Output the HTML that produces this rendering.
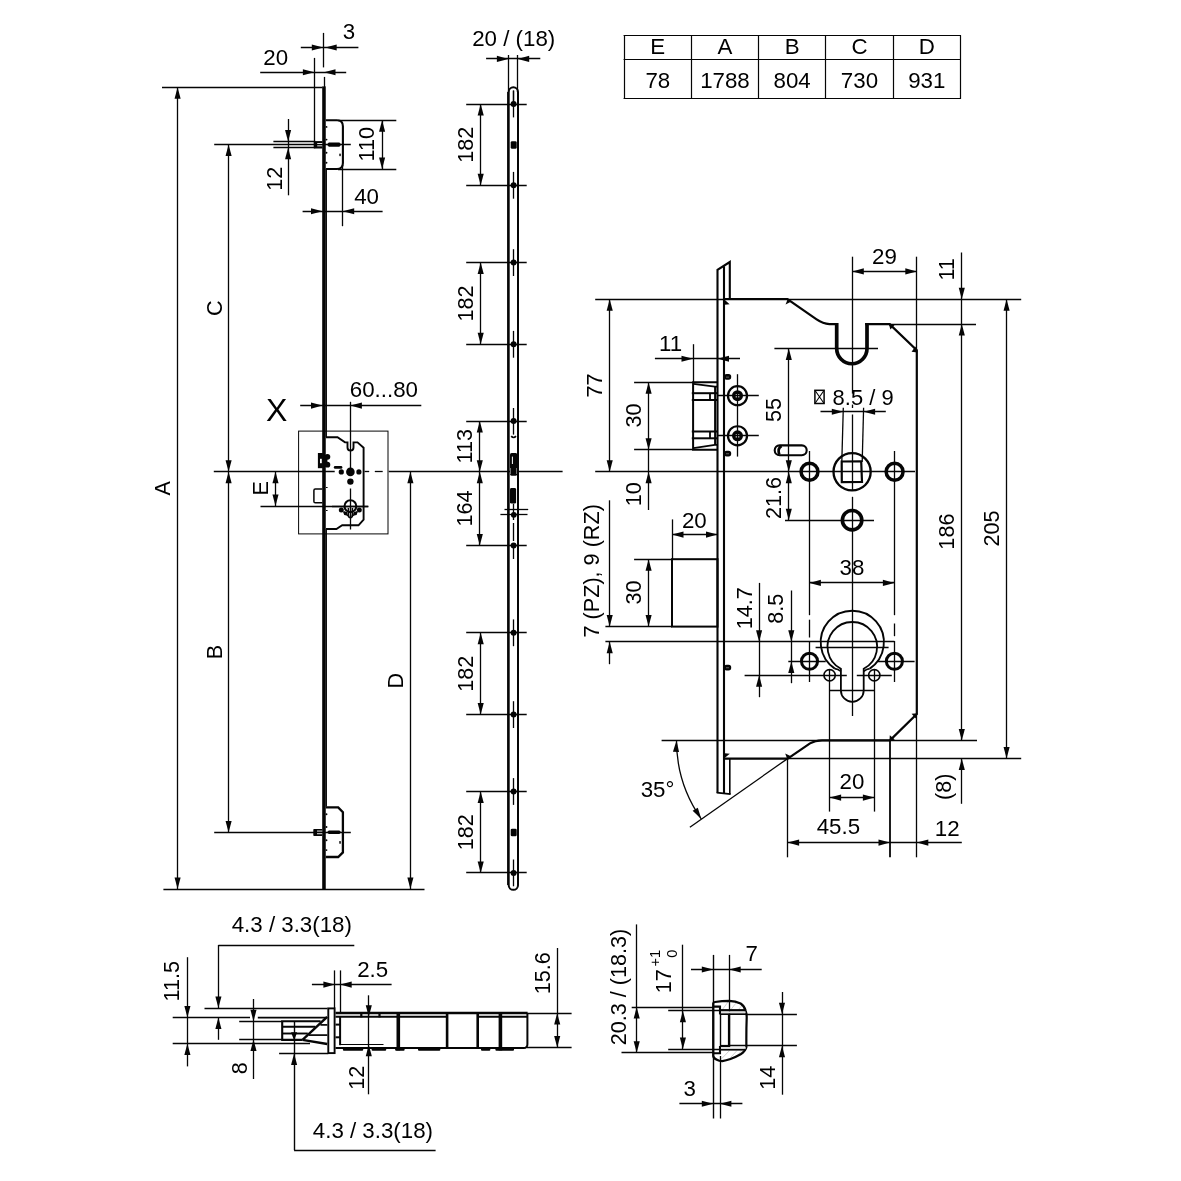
<!DOCTYPE html>
<html lang="en">
<head>
<meta charset="utf-8">
<title>Lock dimensions</title>
<style>
html,body{margin:0;padding:0;background:#fff;}
body{width:1181px;height:1181px;overflow:hidden;font-family:"Liberation Sans",sans-serif;}
svg{display:block;filter:grayscale(1);}
svg text{font-family:"Liberation Sans",sans-serif;fill:#000;stroke:none;}
svg .f{fill:#050505;stroke:none;}
</style>
</head>
<body>
<svg width="1181" height="1181" viewBox="0 0 1181 1181">
<rect x="0" y="0" width="1181" height="1181" style="fill:#fff;stroke:none"/>
<g fill="none" stroke="#050505" stroke-width="1.3">
<!-- view 1 -->
<rect class="f" x="322.2" y="86.4" width="3.55" height="803.2"/>
<rect class="f" x="325.6" y="169" width="1.35" height="268.2"/>
<rect class="f" x="325.6" y="529" width="1.35" height="277.6"/>
<line x1="323.5" y1="32.9" x2="323.5" y2="67.4" stroke-width="1.3"/>
<line x1="324.5" y1="76.9" x2="324.5" y2="87" stroke-width="1.3"/>
<line x1="162" y1="87.5" x2="322.5" y2="87.5" stroke-width="1.3"/>
<line x1="163.4" y1="889.5" x2="424.5" y2="889.5" stroke-width="1.3"/>
<line x1="177.5" y1="87.3" x2="177.5" y2="889" stroke-width="1.3"/>
<polygon class="f" points="177.6,87.3 180.65,98.8 174.55,98.8"/>
<polygon class="f" points="177.6,889 174.55,877.5 180.65,877.5"/>
<text transform="translate(170.48 488.4) rotate(-90) scale(0.97 1)" font-size="22.3" text-anchor="middle">A</text>
<line x1="214.2" y1="144.5" x2="350.8" y2="144.5" stroke-width="1.3"/>
<line x1="214.2" y1="832.5" x2="350.8" y2="832.5" stroke-width="1.3"/>
<line x1="228.5" y1="144.4" x2="228.5" y2="832.4" stroke-width="1.3"/>
<polygon class="f" points="228.6,144.4 231.65,155.9 225.55,155.9"/>
<polygon class="f" points="228.6,471.8 225.55,460.3 231.65,460.3"/>
<polygon class="f" points="228.6,471.8 231.65,483.3 225.55,483.3"/>
<polygon class="f" points="228.6,832.4 225.55,820.9 231.65,820.9"/>
<text transform="translate(221.68 308.3) rotate(-90) scale(0.97 1)" font-size="22.3" text-anchor="middle">C</text>
<text transform="translate(221.68 652) rotate(-90) scale(0.97 1)" font-size="22.3" text-anchor="middle">B</text>
<line x1="213.8" y1="471.5" x2="334.7" y2="471.5" stroke-width="1.3"/>
<line x1="364.5" y1="471.5" x2="369.2" y2="471.5" stroke-width="1.3"/>
<line x1="374.8" y1="471.5" x2="382.7" y2="471.5" stroke-width="1.3"/>
<line x1="388.7" y1="471.5" x2="562.6" y2="471.5" stroke-width="1.3"/>
<line x1="410.5" y1="471.8" x2="410.5" y2="889" stroke-width="1.3"/>
<polygon class="f" points="410.4,471.8 413.45,483.3 407.35,483.3"/>
<polygon class="f" points="410.4,889 407.35,877.5 413.45,877.5"/>
<text transform="translate(403.28 680.8) rotate(-90) scale(0.97 1)" font-size="22.3" text-anchor="middle">D</text>
<line x1="275.5" y1="471.8" x2="275.5" y2="506" stroke-width="1.3"/>
<polygon class="f" points="275.5,471.8 278.55,483.3 272.45,483.3"/>
<polygon class="f" points="275.5,506 272.45,494.5 278.55,494.5"/>
<line x1="260.5" y1="506.5" x2="368.3" y2="506.5" stroke-width="1.3"/>
<text transform="translate(267.88 488.4) rotate(-90) scale(0.97 1)" font-size="22.3" text-anchor="middle">E</text>
<line x1="300.8" y1="47.5" x2="358.4" y2="47.5" stroke-width="1.3"/>
<polygon class="f" points="323.3,47.5 311.8,50.55 311.8,44.45"/>
<polygon class="f" points="325.2,47.5 336.7,44.45 336.7,50.55"/>
<text transform="translate(348.9 39.2) scale(1 1)" font-size="22.3" text-anchor="middle">3</text>
<line x1="260.2" y1="72.5" x2="346.2" y2="72.5" stroke-width="1.3"/>
<polygon class="f" points="314.4,72.2 302.9,75.25 302.9,69.15"/>
<polygon class="f" points="324,72.2 335.5,69.15 335.5,75.25"/>
<line x1="314.5" y1="57.9" x2="314.5" y2="147.4" stroke-width="1.3"/>
<text transform="translate(275.7 64.7) scale(1 1)" font-size="22.3" text-anchor="middle">20</text>
<line x1="288.5" y1="119" x2="288.5" y2="195.3" stroke-width="1.3"/>
<polygon class="f" points="288.1,141.4 285.05,129.9 291.15,129.9"/>
<polygon class="f" points="288.1,147.8 291.15,159.3 285.05,159.3"/>
<line x1="273.4" y1="141.5" x2="315.3" y2="141.5" stroke-width="1.3"/>
<line x1="273.4" y1="147.5" x2="315.3" y2="147.5" stroke-width="1.3"/>
<text transform="translate(281.88 178.7) rotate(-90) scale(0.97 1)" font-size="22.3" text-anchor="middle">12</text>
<line x1="382.5" y1="120.3" x2="382.5" y2="169" stroke-width="1.3"/>
<polygon class="f" points="382.1,120.3 385.15,131.8 379.05,131.8"/>
<polygon class="f" points="382.1,169 379.05,157.5 385.15,157.5"/>
<line x1="338" y1="120.5" x2="396.3" y2="120.5" stroke-width="1.3"/>
<line x1="338" y1="169.5" x2="396.3" y2="169.5" stroke-width="1.3"/>
<text transform="translate(374.48 144.2) rotate(-90) scale(0.97 1)" font-size="22.3" text-anchor="middle">110</text>
<line x1="302.6" y1="211.5" x2="382.6" y2="211.5" stroke-width="1.3"/>
<polygon class="f" points="322.5,211.3 311,214.35 311,208.25"/>
<polygon class="f" points="342.7,211.3 354.2,208.25 354.2,214.35"/>
<line x1="342.5" y1="165" x2="342.5" y2="226.2" stroke-width="1.3"/>
<text transform="translate(366.6 204.1) scale(1 1)" font-size="22.3" text-anchor="middle">40</text>
<line x1="300.2" y1="405.5" x2="421.3" y2="405.5" stroke-width="1.3"/>
<polygon class="f" points="322.5,405.6 311,408.65 311,402.55"/>
<polygon class="f" points="350.4,405.6 361.9,402.55 361.9,408.65"/>
<line x1="350.5" y1="401.8" x2="350.5" y2="476" stroke-width="1.3"/>
<line x1="350.5" y1="488.5" x2="350.5" y2="529.5" stroke-width="1.3"/>
<text transform="translate(383.9 396.8) scale(1 1)" font-size="22.3" text-anchor="middle">60...80</text>
<text transform="translate(276.7 420.5) scale(1 1)" font-size="32" text-anchor="middle">X</text>
<path d="M325.8 120.2 H337 Q342.9 120.2 342.9 126.2 V163 Q342.9 169 337 169 H325.8" stroke-width="2.1" fill="none"/>
<circle class="f" cx="326.5" cy="126.9" r="0.95"/>
<circle class="f" cx="326.5" cy="139.6" r="0.95"/>
<circle class="f" cx="326.5" cy="152.7" r="0.95"/>
<circle class="f" cx="326.5" cy="162.8" r="0.95"/>
<polygon class="f" points="326.9,144.6 328.8,142.6 339.4,142.6 341.3,144.6 339.4,146.7 328.8,146.7"/>
<rect class="f" x="339.3" y="153.4" width="1.5" height="2.8" rx="0.6"/>
<rect class="f" x="313.8" y="141.1" width="8.6" height="7.4"/>
<rect x="317.2" y="143" width="5" height="0.9" fill="#fff" stroke="none"/>
<rect x="317.2" y="145.4" width="5" height="0.9" fill="#fff" stroke="none"/>
<path d="M325.8 807.4 H338.2 L342.9 812.2 V852.4 L338.2 857 H325.8" stroke-width="2.3" fill="none"/>
<circle class="f" cx="326.5" cy="814.3" r="0.95"/>
<circle class="f" cx="326.5" cy="827" r="0.95"/>
<circle class="f" cx="326.5" cy="840.3" r="0.95"/>
<circle class="f" cx="326.5" cy="850.1" r="0.95"/>
<polygon class="f" points="326.9,832.3 328.8,830.5 339.4,830.5 341.3,832.3 339.4,834.1 328.8,834.1"/>
<rect class="f" x="339.3" y="841" width="1.5" height="2.8" rx="0.6"/>
<rect class="f" x="313.3" y="829" width="9.1" height="7" rx="0.8"/>
<rect x="317" y="830.6" width="5.2" height="0.9" fill="#fff" stroke="none"/>
<rect x="317" y="833.3" width="5.2" height="0.9" fill="#fff" stroke="none"/>
<rect x="298.6" y="431.1" width="89.4" height="102.8" stroke-width="1" fill="none"/>
<path d="M326 437.2 H337.5 L345 442.4 H347.5 V447.6 A3 3 0 0 0 353.5 447.6 V442.4 H357.5 L363.6 447.7 V519.6 L358.5 525.3 H342.2 L336.4 529 H326" stroke-width="1.9" fill="none"/>
<rect class="f" x="317.9" y="453" width="5" height="15.2"/>
<rect x="320" y="458.8" width="1.8" height="4.4" fill="#fff" stroke="none"/>
<circle class="f" cx="327.4" cy="456.8" r="2.9"/>
<circle class="f" cx="327.4" cy="464.7" r="2.9"/>
<rect class="f" x="324" y="455.5" width="3.4" height="10.5"/>
<line x1="335.2" y1="467.4" x2="341" y2="467.4" stroke-width="2.8" stroke-linecap="round"/>
<circle class="f" cx="341.3" cy="471.9" r="2.6"/>
<circle class="f" cx="350.4" cy="471.9" r="4.3"/>
<circle class="f" cx="358.9" cy="471.9" r="2.6"/>
<circle class="f" cx="350.4" cy="481.6" r="3.2"/>
<path d="M322.4 489 H315.3 Q313.9 489 313.9 490.4 V501.4 Q313.9 502.8 315.3 502.8 H322.4" stroke-width="1.5" fill="none"/>
<line x1="326" y1="487.5" x2="327.6" y2="487.5" stroke-width="1.2"/>
<line x1="326" y1="510.5" x2="327.6" y2="510.5" stroke-width="1.2"/>
<circle cx="350.4" cy="506.2" r="5.9" stroke-width="2.1" fill="none"/>
<path d="M348.4 508 V515.4 A2 2 0 0 0 352.4 515.4 V508" stroke-width="1.6" fill="none"/>
<circle class="f" cx="341.3" cy="509.9" r="2.5"/>
<circle class="f" cx="359.3" cy="509.9" r="2.5"/>
<circle class="f" cx="345.6" cy="513.4" r="1.9"/>
<circle class="f" cx="355.2" cy="513.4" r="1.9"/>
<path d="M343.5 511.5 Q346 515 349 516" stroke-width="1.8" fill="none"/>
<path d="M357.3 511.5 Q354.8 515 351.8 516" stroke-width="1.8" fill="none"/>
<line x1="332" y1="506.5" x2="368.3" y2="506.5" stroke-width="1.3"/>
<!-- view 2 -->
<text transform="translate(513.7 46.4) scale(1 1)" font-size="22.3" text-anchor="middle">20 / (18)</text>
<line x1="486.1" y1="58.5" x2="540.3" y2="58.5" stroke-width="1.3"/>
<polygon class="f" points="508.4,58.9 496.9,61.95 496.9,55.85"/>
<polygon class="f" points="517.7,58.9 529.2,55.85 529.2,61.95"/>
<line x1="508.5" y1="55" x2="508.5" y2="92" stroke-width="1.3"/>
<line x1="517.5" y1="55" x2="517.5" y2="92" stroke-width="1.3"/>
<path d="M508.7 885.2 V92 A4.65 4.65 0 0 1 518 92 V885.2 A4.65 4.65 0 0 1 508.7 885.2" stroke-width="2" fill="none"/>
<line x1="507.5" y1="92" x2="507.5" y2="885" stroke-width="0.9"/>
<circle class="f" cx="513.6" cy="104" r="3"/>
<line x1="466.2" y1="104.5" x2="526.7" y2="104.5" stroke-width="1.3"/>
<line x1="513.5" y1="90.6" x2="513.5" y2="117.4" stroke-width="1.3"/>
<circle class="f" cx="513.6" cy="185.3" r="3"/>
<line x1="466.2" y1="185.5" x2="526.7" y2="185.5" stroke-width="1.3"/>
<line x1="513.5" y1="171.9" x2="513.5" y2="198.7" stroke-width="1.3"/>
<circle class="f" cx="513.6" cy="262.6" r="3"/>
<line x1="466.2" y1="262.5" x2="526.7" y2="262.5" stroke-width="1.3"/>
<line x1="513.5" y1="249.2" x2="513.5" y2="276" stroke-width="1.3"/>
<circle class="f" cx="513.6" cy="344.3" r="3"/>
<line x1="466.2" y1="344.5" x2="526.7" y2="344.5" stroke-width="1.3"/>
<line x1="513.5" y1="330.9" x2="513.5" y2="357.7" stroke-width="1.3"/>
<circle class="f" cx="513.6" cy="421" r="3"/>
<line x1="466.2" y1="421.5" x2="526.7" y2="421.5" stroke-width="1.3"/>
<circle class="f" cx="513.6" cy="545.4" r="3"/>
<line x1="466.2" y1="545.5" x2="526.7" y2="545.5" stroke-width="1.3"/>
<circle class="f" cx="513.6" cy="632.8" r="3"/>
<line x1="466.2" y1="632.5" x2="526.7" y2="632.5" stroke-width="1.3"/>
<line x1="513.5" y1="619.4" x2="513.5" y2="646.2" stroke-width="1.3"/>
<circle class="f" cx="513.6" cy="714.6" r="3"/>
<line x1="466.2" y1="714.5" x2="526.7" y2="714.5" stroke-width="1.3"/>
<line x1="513.5" y1="701.2" x2="513.5" y2="728" stroke-width="1.3"/>
<circle class="f" cx="513.6" cy="791.5" r="3"/>
<line x1="466.2" y1="791.5" x2="526.7" y2="791.5" stroke-width="1.3"/>
<line x1="513.5" y1="778.1" x2="513.5" y2="804.9" stroke-width="1.3"/>
<circle class="f" cx="513.6" cy="872.9" r="3"/>
<line x1="466.2" y1="872.5" x2="526.7" y2="872.5" stroke-width="1.3"/>
<line x1="513.5" y1="859.5" x2="513.5" y2="886.3" stroke-width="1.3"/>
<line x1="513.5" y1="90.5" x2="513.5" y2="104" stroke-width="1.3"/>
<line x1="513.5" y1="408" x2="513.5" y2="434.6" stroke-width="1.3"/>
<path d="M511.2 436.2 Q513.6 438.8 516 436.2" stroke-width="1.7" fill="none"/>
<rect class="f" x="510.7" y="141.2" width="6" height="7.6" rx="1.4"/>
<rect class="f" x="510.7" y="828.7" width="6" height="7.6" rx="1.4"/>
<rect class="f" x="510" y="452.9" width="7.3" height="22.8" rx="1.6"/>
<rect x="511.9" y="456.6" width="1.0" height="7.4" fill="#fff" stroke="none"/>
<rect x="510.2" y="468" width="0.6" height="6" fill="#bbb" stroke="none"/>
<rect x="516.3" y="468" width="0.6" height="6" fill="#bbb" stroke="none"/>
<rect class="f" x="510" y="488" width="6.1" height="15.6" rx="1.4"/>
<line x1="504.5" y1="509.5" x2="528.2" y2="509.5" stroke-width="1.3"/>
<line x1="500.4" y1="514.5" x2="527.5" y2="514.5" stroke-width="1.3"/>
<circle class="f" cx="513.8" cy="514.8" r="2.9"/>
<line x1="513.5" y1="503.7" x2="513.5" y2="520" stroke-width="1.3"/>
<line x1="513.5" y1="523" x2="513.5" y2="541" stroke-width="1.3"/>
<line x1="513.5" y1="545" x2="513.5" y2="559" stroke-width="1.3"/>
<line x1="480.5" y1="104" x2="480.5" y2="185.3" stroke-width="1.3"/>
<polygon class="f" points="480.7,104 483.75,115.5 477.65,115.5"/>
<polygon class="f" points="480.7,185.3 477.65,173.8 483.75,173.8"/>
<text transform="translate(472.98 144.65) rotate(-90) scale(0.97 1)" font-size="22.3" text-anchor="middle">182</text>
<line x1="480.5" y1="262.6" x2="480.5" y2="344.3" stroke-width="1.3"/>
<polygon class="f" points="480.7,262.6 483.75,274.1 477.65,274.1"/>
<polygon class="f" points="480.7,344.3 477.65,332.8 483.75,332.8"/>
<text transform="translate(472.98 303.45) rotate(-90) scale(0.97 1)" font-size="22.3" text-anchor="middle">182</text>
<line x1="480.5" y1="632.8" x2="480.5" y2="714.6" stroke-width="1.3"/>
<polygon class="f" points="480.7,632.8 483.75,644.3 477.65,644.3"/>
<polygon class="f" points="480.7,714.6 477.65,703.1 483.75,703.1"/>
<text transform="translate(472.98 673.7) rotate(-90) scale(0.97 1)" font-size="22.3" text-anchor="middle">182</text>
<line x1="480.5" y1="791.5" x2="480.5" y2="872.9" stroke-width="1.3"/>
<polygon class="f" points="480.7,791.5 483.75,803 477.65,803"/>
<polygon class="f" points="480.7,872.9 477.65,861.4 483.75,861.4"/>
<text transform="translate(472.98 832.2) rotate(-90) scale(0.97 1)" font-size="22.3" text-anchor="middle">182</text>
<line x1="479.5" y1="421" x2="479.5" y2="545.4" stroke-width="1.3"/>
<polygon class="f" points="479.8,421 482.85,432.5 476.75,432.5"/>
<polygon class="f" points="479.8,471.8 476.75,460.3 482.85,460.3"/>
<polygon class="f" points="479.8,471.8 482.85,483.3 476.75,483.3"/>
<polygon class="f" points="479.8,545.4 476.75,533.9 482.85,533.9"/>
<text transform="translate(471.98 446.2) rotate(-90) scale(0.97 1)" font-size="22.3" text-anchor="middle">113</text>
<text transform="translate(471.98 508.4) rotate(-90) scale(0.97 1)" font-size="22.3" text-anchor="middle">164</text>
<!-- view 3 -->
<line x1="595.2" y1="299.5" x2="724" y2="299.5" stroke-width="1.3"/>
<line x1="788" y1="299.5" x2="1021.2" y2="299.5" stroke-width="1.3"/>
<line x1="595.2" y1="471.5" x2="915" y2="471.5" stroke-width="1.3"/>
<line x1="889" y1="324.5" x2="976" y2="324.5" stroke-width="1.3"/>
<line x1="661.6" y1="740.5" x2="977" y2="740.5" stroke-width="1.3"/>
<line x1="787.6" y1="758.5" x2="1021.2" y2="758.5" stroke-width="1.3"/>
<line x1="609.5" y1="299.2" x2="609.5" y2="471.8" stroke-width="1.3"/>
<polygon class="f" points="609.7,299.2 612.75,310.7 606.65,310.7"/>
<polygon class="f" points="609.7,471.8 606.65,460.3 612.75,460.3"/>
<text transform="translate(601.78 385.4) rotate(-90) scale(0.97 1)" font-size="22.3" text-anchor="middle">77</text>
<path d="M717.5 793 V269.8 L729.8 262 V299.2" stroke-width="2.1" fill="none"/>
<line x1="724" y1="266.2" x2="724" y2="793.6" stroke-width="2.1"/>
<line x1="729.8" y1="758.6" x2="729.8" y2="794.2" stroke-width="1.6"/>
<path d="M716.7 792.6 L730.5999999999999 794.2" stroke-width="1.8" fill="none"/>
<path d="M724.0 299.2 H787.4 L816.6 319.4 Q823 323.8 829.4 324.1 H836.7" stroke-width="2.2" fill="none"/>
<path d="M836.7 322.9 V348.6 A15.15 15.15 0 0 0 867 348.6 V322.9" stroke-width="3.7" fill="none"/>
<path d="M865.2 324.1 H889.6 L916.8 350.2 V714 L890 740.3 H822 Q815 740.5 810 743.4 L787.7 758.7 H724.0" stroke-width="2.2" fill="none"/>
<polygon class="f" points="724.6,299.8 729.6,304.2 724.6,304.8"/>
<polygon class="f" points="787.9,298.6 785.6,304.6 791.4,301.4"/>
<polygon class="f" points="888.6,323.2 894.8,324.8 890.4,329.4"/>
<polygon class="f" points="917.4,352.4 911.6,351.8 915.4,346.6"/>
<polygon class="f" points="917.6,713.2 911.6,713.8 915.8,718.6"/>
<polygon class="f" points="889.4,741.2 889.8,735.2 894.8,739.4"/>
<polygon class="f" points="787.4,759.4 785.2,753.4 791.4,756.6"/>
<polygon class="f" points="724.6,758 729.8,753.8 724.6,753.2"/>
<line x1="852.5" y1="256.7" x2="852.5" y2="393.6" stroke-width="1.3"/>
<line x1="852.5" y1="404.6" x2="852.5" y2="408" stroke-width="1.3"/>
<line x1="852.5" y1="414.5" x2="852.5" y2="491" stroke-width="1.3"/>
<line x1="852.5" y1="496.8" x2="852.5" y2="716" stroke-width="1.3"/>
<line x1="916.5" y1="256.7" x2="916.5" y2="352" stroke-width="1.3"/>
<line x1="916.5" y1="714" x2="916.5" y2="857.3" stroke-width="1.3"/>
<line x1="852.3" y1="271.5" x2="916.8" y2="271.5" stroke-width="1.3"/>
<polygon class="f" points="852.3,271.4 863.8,268.35 863.8,274.45"/>
<polygon class="f" points="916.8,271.4 905.3,274.45 905.3,268.35"/>
<text transform="translate(884.4 263.8) scale(1 1)" font-size="22.3" text-anchor="middle">29</text>
<line x1="961.5" y1="252.4" x2="961.5" y2="740.4" stroke-width="1.3"/>
<line x1="961.5" y1="758.6" x2="961.5" y2="803.8" stroke-width="1.3"/>
<polygon class="f" points="961.8,299.2 958.75,287.7 964.85,287.7"/>
<polygon class="f" points="961.8,324 964.85,335.5 958.75,335.5"/>
<polygon class="f" points="961.8,740.4 958.75,728.9 964.85,728.9"/>
<polygon class="f" points="961.8,758.6 964.85,770.1 958.75,770.1"/>
<text transform="translate(953.98 269.4) rotate(-90) scale(0.97 1)" font-size="22.3" text-anchor="middle">11</text>
<text transform="translate(954.18 531.6) rotate(-90) scale(0.97 1)" font-size="22.3" text-anchor="middle">186</text>
<text transform="translate(951.18 786.8) rotate(-90) scale(0.97 1)" font-size="22.3" text-anchor="middle">(8)</text>
<line x1="1006.5" y1="299.2" x2="1006.5" y2="758.6" stroke-width="1.3"/>
<polygon class="f" points="1006.6,299.2 1009.65,310.7 1003.55,310.7"/>
<polygon class="f" points="1006.6,758.6 1003.55,747.1 1009.65,747.1"/>
<text transform="translate(999.38 528.5) rotate(-90) scale(0.97 1)" font-size="22.3" text-anchor="middle">205</text>
<line x1="774.4" y1="348.5" x2="878" y2="348.5" stroke-width="1.3"/>
<line x1="788.5" y1="348.5" x2="788.5" y2="520.2" stroke-width="1.3"/>
<polygon class="f" points="788.8,348.5 791.85,360 785.75,360"/>
<polygon class="f" points="788.8,471.8 785.75,460.3 791.85,460.3"/>
<polygon class="f" points="788.8,471.8 791.85,483.3 785.75,483.3"/>
<polygon class="f" points="788.8,520.2 785.75,508.7 791.85,508.7"/>
<text transform="translate(781.08 410.1) rotate(-90) scale(0.97 1)" font-size="22.3" text-anchor="middle">55</text>
<text transform="translate(781.08 498) rotate(-90) scale(0.97 1)" font-size="22.3" text-anchor="middle">21.6</text>
<line x1="785" y1="520.5" x2="874" y2="520.5" stroke-width="1.3"/>
<line x1="654.9" y1="358.5" x2="740" y2="358.5" stroke-width="1.3"/>
<polygon class="f" points="693,358.7 681.5,361.75 681.5,355.65"/>
<polygon class="f" points="717.5,358.7 729,355.65 729,361.75"/>
<line x1="693.5" y1="344.2" x2="693.5" y2="382.4" stroke-width="1.3"/>
<text transform="translate(670.6 350.7) scale(1 1)" font-size="22.3" text-anchor="middle">11</text>
<line x1="648.5" y1="382.3" x2="648.5" y2="510" stroke-width="1.3"/>
<polygon class="f" points="648.6,382.3 651.65,393.8 645.55,393.8"/>
<polygon class="f" points="648.6,449.7 645.55,438.2 651.65,438.2"/>
<line x1="634.1" y1="382.5" x2="693" y2="382.5" stroke-width="1.3"/>
<line x1="634.1" y1="449.5" x2="693" y2="449.5" stroke-width="1.3"/>
<text transform="translate(641.28 415.6) rotate(-90) scale(0.97 1)" font-size="22.3" text-anchor="middle">30</text>
<polygon class="f" points="648.6,471.8 651.65,483.3 645.55,483.3"/>
<text transform="translate(641.28 494.2) rotate(-90) scale(0.97 1)" font-size="22.3" text-anchor="middle">10</text>
<path d="M717.5 382.3 H693.1 V449.7 H717.5" stroke-width="2" fill="none"/>
<path d="M693.4 383.8 L714.8 386.7 H717.5" stroke-width="1.7" fill="none"/>
<path d="M693.4 448.2 L714.8 444.9 H717.5" stroke-width="1.7" fill="none"/>
<line x1="715.1" y1="386.7" x2="715.1" y2="444.9" stroke-width="2"/>
<line x1="691.8" y1="393.2" x2="717.5" y2="393.2" stroke-width="2"/>
<line x1="691.8" y1="400" x2="717.5" y2="400" stroke-width="2"/>
<line x1="710" y1="393.2" x2="710" y2="400" stroke-width="1.8"/>
<line x1="691.8" y1="431.5" x2="717.5" y2="431.5" stroke-width="2"/>
<line x1="691.8" y1="438.3" x2="717.5" y2="438.3" stroke-width="2"/>
<line x1="710" y1="431.5" x2="710" y2="438.3" stroke-width="1.8"/>
<circle cx="737.5" cy="395.7" r="9.55" stroke-width="2.2" fill="none"/>
<circle class="f" cx="737.5" cy="395.7" r="5.5"/>
<rect x="735.7" y="394" width="3.6" height="3.4" fill="#e8e8e8" stroke="none"/>
<line x1="717.5" y1="395.5" x2="758.8" y2="395.5" stroke-width="1.3"/>
<circle cx="737.5" cy="435.8" r="9.55" stroke-width="2.2" fill="none"/>
<circle class="f" cx="737.5" cy="435.8" r="5.5"/>
<rect x="735.7" y="434.1" width="3.6" height="3.4" fill="#e8e8e8" stroke="none"/>
<line x1="717.5" y1="435.5" x2="758.8" y2="435.5" stroke-width="1.3"/>
<line x1="737.5" y1="374.2" x2="737.5" y2="456.6" stroke-width="1.3"/>
<rect class="f" x="724" y="374.1" width="7.2" height="5.6" rx="2.6"/>
<rect x="726" y="376.7" width="3" height="0.8" fill="#777" stroke="none"/>
<rect class="f" x="724" y="450.8" width="7.2" height="5.6" rx="2.6"/>
<rect x="726" y="453.4" width="3" height="0.8" fill="#777" stroke="none"/>
<rect class="f" x="724" y="664.8" width="7.2" height="5.6" rx="2.6"/>
<rect x="726" y="667.4" width="3" height="0.8" fill="#777" stroke="none"/>
<path d="M779.6 445.4 H801.8 A4.9 4.9 0 0 1 801.8 455.2 H779.6 A4.9 4.9 0 0 1 779.6 445.4 Z" stroke-width="2.1" fill="none"/>
<path d="M781.6 446 Q777 448.4 779.4 454.6" stroke-width="2.6" fill="none"/>
<circle cx="852.1" cy="471.8" r="18.6" stroke-width="2.3" fill="none"/>
<path d="M841.7 461.5 L861.2 461.4 L862 482 L841.8 482.2 Z" stroke-width="2.2" fill="none"/>
<circle cx="809.5" cy="471.8" r="8.45" stroke-width="3.5" fill="none"/>
<circle cx="894.6" cy="471.8" r="8.45" stroke-width="3.5" fill="none"/>
<circle cx="852.1" cy="520.2" r="9.7" stroke-width="3.6" fill="none"/>
<line x1="809.5" y1="451" x2="809.5" y2="615.2" stroke-width="1.3"/>
<line x1="809.5" y1="619.7" x2="809.5" y2="637.5" stroke-width="1.3"/>
<line x1="809.5" y1="641" x2="809.5" y2="682" stroke-width="1.3"/>
<line x1="894.5" y1="451" x2="894.5" y2="615.2" stroke-width="1.3"/>
<line x1="894.5" y1="623.5" x2="894.5" y2="636.2" stroke-width="1.3"/>
<line x1="894.5" y1="641" x2="894.5" y2="682" stroke-width="1.3"/>
<rect x="814.9" y="390.3" width="9.2" height="13.2" stroke-width="1.5" fill="none"/>
<path d="M814.9 390.3 L824.1 403.5 M824.1 390.3 L814.9 403.5" stroke-width="1.1" fill="none"/>
<text transform="translate(832.6 405.3) scale(1 1)" font-size="22.3" text-anchor="start" textLength="61" lengthAdjust="spacingAndGlyphs">8.5 / 9</text>
<line x1="820.5" y1="411.5" x2="885.8" y2="411.5" stroke-width="1.3"/>
<polygon class="f" points="843.3,411.8 831.8,414.85 831.8,408.75"/>
<polygon class="f" points="863.6,411.8 875.1,408.75 875.1,414.85"/>
<line x1="843.3" y1="407.8" x2="841.8" y2="462" stroke-width="1.3"/>
<line x1="863.6" y1="407.8" x2="862.2" y2="462" stroke-width="1.3"/>
<rect x="672" y="559.2" width="45.5" height="67.4" stroke-width="2" fill="none"/>
<line x1="672" y1="534.5" x2="717.5" y2="534.5" stroke-width="1.3"/>
<polygon class="f" points="672,534.6 683.5,531.55 683.5,537.65"/>
<polygon class="f" points="717.5,534.6 706,537.65 706,531.55"/>
<line x1="672.5" y1="519.4" x2="672.5" y2="559" stroke-width="1.3"/>
<text transform="translate(694.3 527.5) scale(1 1)" font-size="22.3" text-anchor="middle">20</text>
<line x1="648.5" y1="559.2" x2="648.5" y2="626.6" stroke-width="1.3"/>
<polygon class="f" points="648.6,559.2 651.65,570.7 645.55,570.7"/>
<polygon class="f" points="648.6,626.6 645.55,615.1 651.65,615.1"/>
<line x1="634.1" y1="559.5" x2="672" y2="559.5" stroke-width="1.3"/>
<line x1="605.4" y1="626.5" x2="672" y2="626.5" stroke-width="1.3"/>
<text transform="translate(641.28 592.4) rotate(-90) scale(0.97 1)" font-size="22.3" text-anchor="middle">30</text>
<line x1="609.5" y1="500.3" x2="609.5" y2="626.6" stroke-width="1.3"/>
<line x1="609.5" y1="641.8" x2="609.5" y2="664.2" stroke-width="1.3"/>
<polygon class="f" points="609.7,626.6 606.65,615.1 612.75,615.1"/>
<polygon class="f" points="609.7,641.8 612.75,653.3 606.65,653.3"/>
<line x1="605.4" y1="641.5" x2="894.4" y2="641.5" stroke-width="1.3"/>
<text transform="translate(599.38 570.8) rotate(-90) scale(0.97 1)" font-size="22.3" text-anchor="middle">7 (PZ), 9 (RZ)</text>
<line x1="809.4" y1="582.5" x2="894.4" y2="582.5" stroke-width="1.3"/>
<polygon class="f" points="809.4,582.9 820.9,579.85 820.9,585.95"/>
<polygon class="f" points="894.4,582.9 882.9,585.95 882.9,579.85"/>
<text transform="translate(852 574.8) scale(1 1)" font-size="22.3" text-anchor="middle">38</text>
<line x1="759.5" y1="582.9" x2="759.5" y2="697.2" stroke-width="1.3"/>
<polygon class="f" points="759.1,641.8 756.05,630.3 762.15,630.3"/>
<polygon class="f" points="759.1,675.2 762.15,686.7 756.05,686.7"/>
<text transform="translate(751.78 608.3) rotate(-90) scale(0.97 1)" font-size="22.3" text-anchor="middle">14.7</text>
<line x1="744.6" y1="675.5" x2="846.8" y2="675.5" stroke-width="1.3"/>
<line x1="856.8" y1="675.5" x2="891.8" y2="675.5" stroke-width="1.3"/>
<line x1="791.5" y1="590.5" x2="791.5" y2="683.2" stroke-width="1.3"/>
<polygon class="f" points="791.3,641.8 788.25,630.3 794.35,630.3"/>
<polygon class="f" points="791.3,661.4 794.35,672.9 788.25,672.9"/>
<text transform="translate(783.48 608.8) rotate(-90) scale(0.97 1)" font-size="22.3" text-anchor="middle">8.5</text>
<line x1="788.3" y1="661.5" x2="825.7" y2="661.5" stroke-width="1.3"/>
<line x1="877.8" y1="661.5" x2="914.6" y2="661.5" stroke-width="1.3"/>
<circle cx="809.5" cy="661.3" r="8.05" stroke-width="3" fill="none"/>
<circle cx="894.4" cy="661.3" r="8.05" stroke-width="3" fill="none"/>
<circle cx="829.6" cy="675.3" r="5.65" stroke-width="1.6" fill="none"/>
<circle cx="874.3" cy="675.3" r="5.65" stroke-width="1.6" fill="none"/>
<line x1="815.6" y1="647.5" x2="888.6" y2="647.5" stroke-width="1.3"/>
<path d="M834.8 668.6 A31.6 31.6 0 1 1 869.8 668.6" stroke-width="1.9" fill="none"/>
<path d="M834.8 668.6 Q838 669 841 671.4 M869.8 668.6 Q866.6 669 863.6 671.4" stroke-width="1.8" fill="none"/>
<path d="M840.9 690.4 V668.8 A24.8 24.8 0 1 1 863.7 668.8 V690.4 A11.4 11.4 0 0 1 840.9 690.4 Z" stroke-width="1.8" fill="none"/>
<line x1="829.5" y1="669" x2="829.5" y2="811.6" stroke-width="1.3"/>
<line x1="874.5" y1="669" x2="874.5" y2="811.6" stroke-width="1.3"/>
<line x1="829.6" y1="690.5" x2="874.4" y2="690.5" stroke-width="1.3"/>
<line x1="829.6" y1="797.5" x2="874.4" y2="797.5" stroke-width="1.3"/>
<polygon class="f" points="829.6,797.6 841.1,794.55 841.1,800.65"/>
<polygon class="f" points="874.4,797.6 862.9,800.65 862.9,794.55"/>
<text transform="translate(852 789.2) scale(1 1)" font-size="22.3" text-anchor="middle">20</text>
<line x1="787.6" y1="842.5" x2="961.8" y2="842.5" stroke-width="1.3"/>
<polygon class="f" points="787.6,842.6 799.1,839.55 799.1,845.65"/>
<polygon class="f" points="890,842.6 878.5,845.65 878.5,839.55"/>
<polygon class="f" points="916.8,842.6 928.3,839.55 928.3,845.65"/>
<line x1="787.5" y1="758.6" x2="787.5" y2="857.3" stroke-width="1.3"/>
<line x1="890" y1="740.4" x2="890" y2="857.3" stroke-width="1.8"/>
<text transform="translate(838.4 834.4) scale(1 1)" font-size="22.3" text-anchor="middle">45.5</text>
<text transform="translate(947.2 836) scale(1 1)" font-size="22.3" text-anchor="middle">12</text>
<line x1="787.6" y1="758.6" x2="689.9" y2="827.2" stroke-width="1.3"/>
<path d="M676.5 740.4 A137 137 0 0 0 701.3 819" stroke-width="1.3" fill="none"/>
<polygon class="f" points="676.5,740.4 679.05,752.02 672.95,751.76"/>
<polygon class="f" points="701.3,819 692.62,810.86 697.79,807.63"/>
<text transform="translate(657.5 796.8) scale(1 1)" font-size="22.3" text-anchor="middle">35°</text>
<!-- table -->
<line x1="624.5" y1="35.3" x2="624.5" y2="98.9" stroke-width="1.2"/>
<line x1="691.5" y1="35.3" x2="691.5" y2="98.9" stroke-width="1.2"/>
<line x1="758.5" y1="35.3" x2="758.5" y2="98.9" stroke-width="1.2"/>
<line x1="825.5" y1="35.3" x2="825.5" y2="98.9" stroke-width="1.2"/>
<line x1="893.5" y1="35.3" x2="893.5" y2="98.9" stroke-width="1.2"/>
<line x1="960.5" y1="35.3" x2="960.5" y2="98.9" stroke-width="1.2"/>
<line x1="623.6" y1="35.5" x2="961" y2="35.5" stroke-width="1.2"/>
<line x1="623.6" y1="59.5" x2="961" y2="59.5" stroke-width="1.2"/>
<line x1="623.6" y1="98.5" x2="961" y2="98.5" stroke-width="1.2"/>
<text transform="translate(657.8 54.4) scale(1 1)" font-size="22.3" text-anchor="middle">E</text>
<text transform="translate(657.8 87.5) scale(1 1)" font-size="22.3" text-anchor="middle">78</text>
<text transform="translate(724.95 54.4) scale(1 1)" font-size="22.3" text-anchor="middle">A</text>
<text transform="translate(724.95 87.5) scale(1 1)" font-size="22.3" text-anchor="middle">1788</text>
<text transform="translate(792.15 54.4) scale(1 1)" font-size="22.3" text-anchor="middle">B</text>
<text transform="translate(792.15 87.5) scale(1 1)" font-size="22.3" text-anchor="middle">804</text>
<text transform="translate(859.45 54.4) scale(1 1)" font-size="22.3" text-anchor="middle">C</text>
<text transform="translate(859.45 87.5) scale(1 1)" font-size="22.3" text-anchor="middle">730</text>
<text transform="translate(926.75 54.4) scale(1 1)" font-size="22.3" text-anchor="middle">D</text>
<text transform="translate(926.75 87.5) scale(1 1)" font-size="22.3" text-anchor="middle">931</text>
<!-- view 4 -->
<text transform="translate(291.8 931.8) scale(1 1)" font-size="22.3" text-anchor="middle">4.3 / 3.3(18)</text>
<line x1="218.4" y1="945.5" x2="354.3" y2="945.5" stroke-width="1.3"/>
<line x1="218.5" y1="945" x2="218.5" y2="1008" stroke-width="1.3"/>
<line x1="218.5" y1="1017.6" x2="218.5" y2="1039.8" stroke-width="1.3"/>
<polygon class="f" points="218.4,1008.1 215.35,996.6 221.45,996.6"/>
<polygon class="f" points="218.4,1017.6 221.45,1029.1 215.35,1029.1"/>
<line x1="204.5" y1="1008.5" x2="327.6" y2="1008.5" stroke-width="1.4"/>
<line x1="172.7" y1="1017.5" x2="250" y2="1017.5" stroke-width="1.5"/>
<line x1="257.8" y1="1017.6" x2="326.4" y2="1017.6" stroke-width="1.6"/>
<line x1="172.7" y1="1043.5" x2="310" y2="1043.5" stroke-width="1.4"/>
<line x1="341" y1="1044.5" x2="383.5" y2="1044.5" stroke-width="1.2"/>
<line x1="187.5" y1="957.2" x2="187.5" y2="1066.4" stroke-width="1.3"/>
<polygon class="f" points="187.4,1017.6 184.35,1006.1 190.45,1006.1"/>
<polygon class="f" points="187.4,1043.5 190.45,1055 184.35,1055"/>
<text transform="translate(179.38 981.3) rotate(-90) scale(0.97 1)" font-size="22.3" text-anchor="middle">11.5</text>
<line x1="253.5" y1="999" x2="253.5" y2="1079" stroke-width="1.3"/>
<polygon class="f" points="253.5,1021.3 250.45,1009.8 256.55,1009.8"/>
<polygon class="f" points="253.5,1039.5 256.55,1051 250.45,1051"/>
<line x1="239.2" y1="1021.5" x2="282" y2="1021.5" stroke-width="1.3"/>
<line x1="239.2" y1="1039.5" x2="282" y2="1039.5" stroke-width="1.3"/>
<text transform="translate(246.68 1068.2) rotate(-90) scale(0.97 1)" font-size="22.3" text-anchor="middle">8</text>
<path d="M320.6 1021.3 H282.2 V1039.9 H302.5" stroke-width="2.1" fill="none"/>
<line x1="282.2" y1="1026.7" x2="315.2" y2="1026.7" stroke-width="1.9"/>
<line x1="282.2" y1="1033.5" x2="307.8" y2="1033.5" stroke-width="1.9"/>
<line x1="320.4" y1="1024.9" x2="327.4" y2="1024.9" stroke-width="1.7"/>
<line x1="309" y1="1035.1" x2="327.4" y2="1035.1" stroke-width="1.7"/>
<line x1="302.5" y1="1039.9" x2="327.2" y2="1016.8" stroke-width="2.4"/>
<line x1="302.5" y1="1039.9" x2="327.2" y2="1044" stroke-width="2.4"/>
<rect x="328.3" y="1008.4" width="6.3" height="44.7" stroke-width="1.9" fill="none"/>
<line x1="279.1" y1="1053.5" x2="328.3" y2="1053.5" stroke-width="1.5"/>
<line x1="311.9" y1="984.5" x2="391.6" y2="984.5" stroke-width="1.3"/>
<polygon class="f" points="334.9,984.6 323.4,987.65 323.4,981.55"/>
<polygon class="f" points="340.2,984.6 351.7,981.55 351.7,987.65"/>
<line x1="334.5" y1="970.4" x2="334.5" y2="1008" stroke-width="1.3"/>
<line x1="340.5" y1="970.4" x2="340.5" y2="1012" stroke-width="1.3"/>
<text transform="translate(372.7 976.7) scale(1 1)" font-size="22.3" text-anchor="middle">2.5</text>
<line x1="368.5" y1="995.3" x2="368.5" y2="1094.3" stroke-width="1.3"/>
<polygon class="f" points="368.8,1016.8 365.75,1005.3 371.85,1005.3"/>
<polygon class="f" points="368.8,1044.8 371.85,1056.3 365.75,1056.3"/>
<text transform="translate(363.58 1077.8) rotate(-90) scale(0.97 1)" font-size="22.3" text-anchor="middle">12</text>
<text transform="translate(372.9 1137.5) scale(1 1)" font-size="22.3" text-anchor="middle">4.3 / 3.3(18)</text>
<line x1="294.1" y1="1150.5" x2="435.6" y2="1150.5" stroke-width="1.3"/>
<line x1="294.5" y1="1021.3" x2="294.5" y2="1150.2" stroke-width="1.4"/>
<polygon class="f" points="294.1,1053.4 297.15,1064.9 291.05,1064.9"/>
<polygon class="f" points="294.1,1040.6 291.05,1032.3 297.15,1032.3"/>
<line x1="335.5" y1="1013" x2="527.6" y2="1013" stroke-width="2.3"/>
<line x1="335.5" y1="1016.8" x2="447.2" y2="1016.8" stroke-width="1.9"/>
<line x1="478.4" y1="1016.8" x2="527" y2="1016.8" stroke-width="1.9"/>
<rect x="336.3" y="1014" width="24" height="1.9" fill="#bdbdbd" stroke="none"/>
<rect class="f" x="360.2" y="1013" width="2.2" height="4.4"/>
<rect class="f" x="378.4" y="1013" width="2.2" height="4.4"/>
<path d="M335.5 1048 H523.8 Q527.4 1048 527.4 1044.2 V1013" stroke-width="2" fill="none"/>
<rect class="f" x="342.9" y="1047.6" width="20.3" height="3.2" rx="1"/>
<rect class="f" x="371.6" y="1047.6" width="14.6" height="3.2" rx="1"/>
<rect class="f" x="395.1" y="1047.6" width="9.5" height="3.2" rx="1"/>
<rect class="f" x="418" y="1047.6" width="22.3" height="3.2" rx="1"/>
<rect class="f" x="481" y="1047.6" width="9.3" height="3.2" rx="1"/>
<rect class="f" x="495.4" y="1047.6" width="18.6" height="3.2" rx="1"/>
<line x1="340.1" y1="1016.8" x2="340.1" y2="1045.2" stroke-width="2"/>
<line x1="335.5" y1="1024.6" x2="340" y2="1024.6" stroke-width="2"/>
<line x1="335.5" y1="1037.3" x2="340" y2="1037.3" stroke-width="2"/>
<line x1="398.3" y1="1013" x2="398.3" y2="1050.4" stroke-width="3.6"/>
<line x1="447.1" y1="1013" x2="447.1" y2="1048" stroke-width="2.6"/>
<line x1="477.7" y1="1013" x2="477.7" y2="1048" stroke-width="2.6"/>
<line x1="500.4" y1="1013" x2="500.4" y2="1050.4" stroke-width="3.6"/>
<line x1="527" y1="1013.5" x2="571.6" y2="1013.5" stroke-width="1.3"/>
<line x1="527" y1="1047.5" x2="571.6" y2="1047.5" stroke-width="1.3"/>
<line x1="557.5" y1="948" x2="557.5" y2="1047.5" stroke-width="1.3"/>
<polygon class="f" points="557.2,1013.1 560.25,1024.6 554.15,1024.6"/>
<polygon class="f" points="557.2,1047.5 554.15,1036 560.25,1036"/>
<text transform="translate(549.88 973.3) rotate(-90) scale(0.97 1)" font-size="22.3" text-anchor="middle">15.6</text>
<!-- view 5 -->
<line x1="636.5" y1="924.4" x2="636.5" y2="1052.8" stroke-width="1.3"/>
<polygon class="f" points="636.7,1007.1 639.75,1018.6 633.65,1018.6"/>
<polygon class="f" points="636.7,1052.8 633.65,1041.3 639.75,1041.3"/>
<line x1="631.7" y1="1007.5" x2="713.2" y2="1007.5" stroke-width="1.3"/>
<line x1="621.5" y1="1052.5" x2="713.2" y2="1052.5" stroke-width="1.3"/>
<text transform="translate(625.78 987) rotate(-90) scale(0.97 1)" font-size="22.3" text-anchor="middle">20.3 / (18.3)</text>
<line x1="682.5" y1="944.7" x2="682.5" y2="1049" stroke-width="1.3"/>
<polygon class="f" points="682.9,1010.8 685.95,1022.3 679.85,1022.3"/>
<polygon class="f" points="682.9,1049 679.85,1037.5 685.95,1037.5"/>
<line x1="668.2" y1="1010.5" x2="720" y2="1010.5" stroke-width="1.3"/>
<line x1="668.2" y1="1049.5" x2="720" y2="1049.5" stroke-width="1.3"/>
<text transform="translate(671.18 981.2) rotate(-90) scale(0.97 1)" font-size="22.3" text-anchor="middle">17</text>
<text transform="translate(660.37 958.2) rotate(-90) scale(0.97 1)" font-size="15" text-anchor="middle">+1</text>
<text transform="translate(676.67 953.6) rotate(-90) scale(0.97 1)" font-size="15" text-anchor="middle">0</text>
<line x1="691" y1="969.5" x2="761.7" y2="969.5" stroke-width="1.3"/>
<polygon class="f" points="713.3,969.5 701.8,972.55 701.8,966.45"/>
<polygon class="f" points="729.2,969.5 740.7,966.45 740.7,972.55"/>
<line x1="713.5" y1="954.9" x2="713.5" y2="1118.5" stroke-width="1.4"/>
<line x1="729.5" y1="954.9" x2="729.5" y2="1014" stroke-width="1.3"/>
<text transform="translate(751.6 961) scale(1 1)" font-size="22.3" text-anchor="middle">7</text>
<line x1="722.5" y1="1009.4" x2="728" y2="1002" stroke-width="0.8" stroke="#c4c4c4"/>
<line x1="731" y1="1009.4" x2="736.5" y2="1002.4" stroke-width="0.8" stroke="#c4c4c4"/>
<line x1="738.5" y1="1009.4" x2="742.5" y2="1005" stroke-width="0.8" stroke="#c4c4c4"/>
<line x1="721.5" y1="1058.8" x2="729.5" y2="1050.6" stroke-width="0.8" stroke="#c4c4c4"/>
<line x1="730.5" y1="1057.6" x2="737" y2="1050.6" stroke-width="0.8" stroke="#c4c4c4"/>
<line x1="738.5" y1="1054.2" x2="741.8" y2="1050.6" stroke-width="0.8" stroke="#c4c4c4"/>
<path d="M713.2 1056 V1003.4 Q713.3 1002.3 715 1002 Q722 1000.9 729.1 1000.8 Q735.6 1000.9 740.6 1003.5 Q744.4 1006 745.6 1010.6 Q746.8 1014 746.7 1017.5 Q746.2 1032 746.4 1047 Q745.6 1051 740.6 1054.3 Q736 1057 730.5 1059 Q726 1060.6 722.3 1061.1 Q719 1061 716.9 1059.7 Q713.6 1058.4 713.2 1056 Z" stroke-width="2.2" fill="none"/>
<path d="M713.2 1006.6 H720 V1014.6" stroke-width="2.1" fill="none"/>
<path d="M713.2 1053.3 H720 V1046.1" stroke-width="2.1" fill="none"/>
<line x1="720" y1="1010.3" x2="745.6" y2="1010.3" stroke-width="2.4"/>
<line x1="720" y1="1014.1" x2="746.7" y2="1014.1" stroke-width="1.8"/>
<rect x="721" y="1011.4" width="24.6" height="1.8" fill="#dedede" stroke="none"/>
<line x1="729.1" y1="1014" x2="729.1" y2="1046.2" stroke-width="2.4"/>
<line x1="720" y1="1046.1" x2="730.2" y2="1046.1" stroke-width="2.4"/>
<line x1="720" y1="1049.6" x2="745.4" y2="1049.6" stroke-width="2"/>
<rect x="721" y="1047.2" width="24.8" height="1.5" fill="#ececec" stroke="none"/>
<line x1="720.5" y1="1014.6" x2="720.5" y2="1046.1" stroke-width="1.4"/>
<line x1="782.5" y1="992" x2="782.5" y2="1094.7" stroke-width="1.3"/>
<polygon class="f" points="782,1014.3 778.95,1002.8 785.05,1002.8"/>
<polygon class="f" points="782,1045.8 785.05,1057.3 778.95,1057.3"/>
<line x1="746" y1="1014.5" x2="796.9" y2="1014.5" stroke-width="1.3"/>
<line x1="729.2" y1="1045.5" x2="796.9" y2="1045.5" stroke-width="1.3"/>
<text transform="translate(774.78 1077.8) rotate(-90) scale(0.97 1)" font-size="22.3" text-anchor="middle">14</text>
<line x1="679.4" y1="1103.5" x2="742.4" y2="1103.5" stroke-width="1.3"/>
<polygon class="f" points="713.3,1103.8 701.8,1106.85 701.8,1100.75"/>
<polygon class="f" points="719.9,1103.8 731.4,1100.75 731.4,1106.85"/>
<line x1="720.5" y1="1056" x2="720.5" y2="1118.5" stroke-width="1.3"/>
<text transform="translate(689.6 1095.8) scale(1 1)" font-size="22.3" text-anchor="middle">3</text>
</g>
</svg>
</body>
</html>
